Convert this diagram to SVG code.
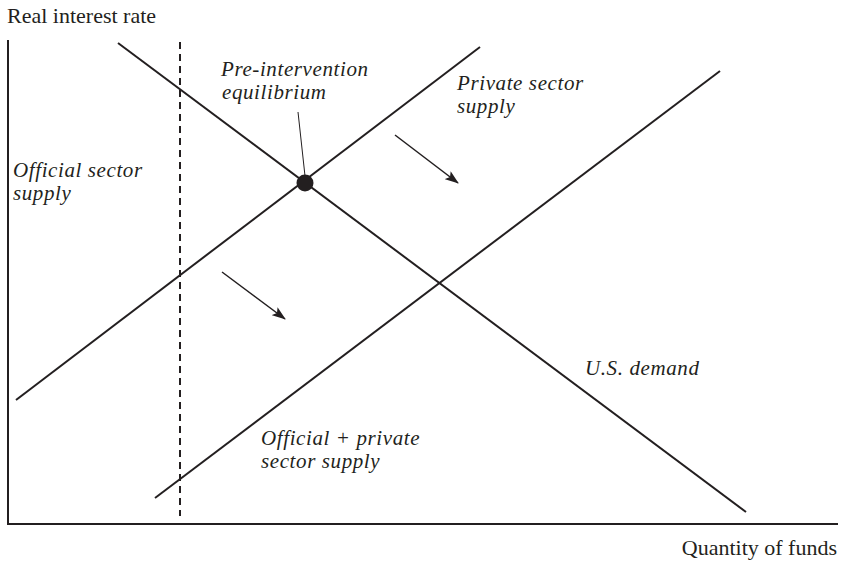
<svg xmlns="http://www.w3.org/2000/svg" width="844" height="563" viewBox="0 0 844 563">
<defs>
<style>
.t{font-family:"Liberation Serif","Times New Roman",serif;font-size:22px;fill:#231f20}
.i{font-style:italic;font-size:21px;letter-spacing:0.6px}
.ln{stroke:#231f20;stroke-width:2;fill:none}
.ar{stroke:#231f20;stroke-width:1.5;fill:none}
</style>
<marker id="ah" viewBox="0 0 14 10" refX="13" refY="5" markerWidth="14" markerHeight="10" markerUnits="userSpaceOnUse" orient="auto">
<path d="M0,0 L14,5 L0,10 L3,5 Z" fill="#231f20"/>
</marker>
</defs>
<rect width="844" height="563" fill="#fff"/>
<g id="axes">
<path class="ln" d="M8,40 V524 H838"/>
<text class="t" x="7" y="23">Real interest rate</text>
<text class="t" x="837" y="555" text-anchor="end">Quantity of funds</text>
</g>
<g id="connectors">
<line class="ln" x1="180" y1="42" x2="180" y2="516" stroke-dasharray="7,5"/>
<line class="ln" x1="118" y1="43" x2="746" y2="512"/>
<line class="ln" x1="16" y1="400" x2="480" y2="47"/>
<line class="ln" x1="155" y1="498" x2="720" y2="71"/>
<line stroke="#231f20" stroke-width="1" x1="298" y1="112" x2="305" y2="176"/>
<line class="ar" x1="395" y1="135" x2="458" y2="183" marker-end="url(#ah)"/>
<line class="ar" x1="222" y1="272" x2="285" y2="319" marker-end="url(#ah)"/>
</g>
<g id="equilibrium">
<circle cx="305" cy="183" r="8.5" fill="#231f20"/>
<text class="t i" x="221" y="76">Pre-intervention</text>
<text class="t i" x="222" y="99">equilibrium</text>
</g>
<g id="private-supply">
<text class="t i" x="457" y="90">Private sector</text>
<text class="t i" x="457" y="113">supply</text>
</g>
<g id="official-supply">
<text class="t i" x="13" y="177">Official sector</text>
<text class="t i" x="13" y="200">supply</text>
</g>
<g id="us-demand">
<text class="t i" x="585" y="375">U.S. demand</text>
</g>
<g id="combined-supply">
<text class="t i" x="261" y="445">Official + private</text>
<text class="t i" x="261" y="468">sector supply</text>
</g>
</svg>
